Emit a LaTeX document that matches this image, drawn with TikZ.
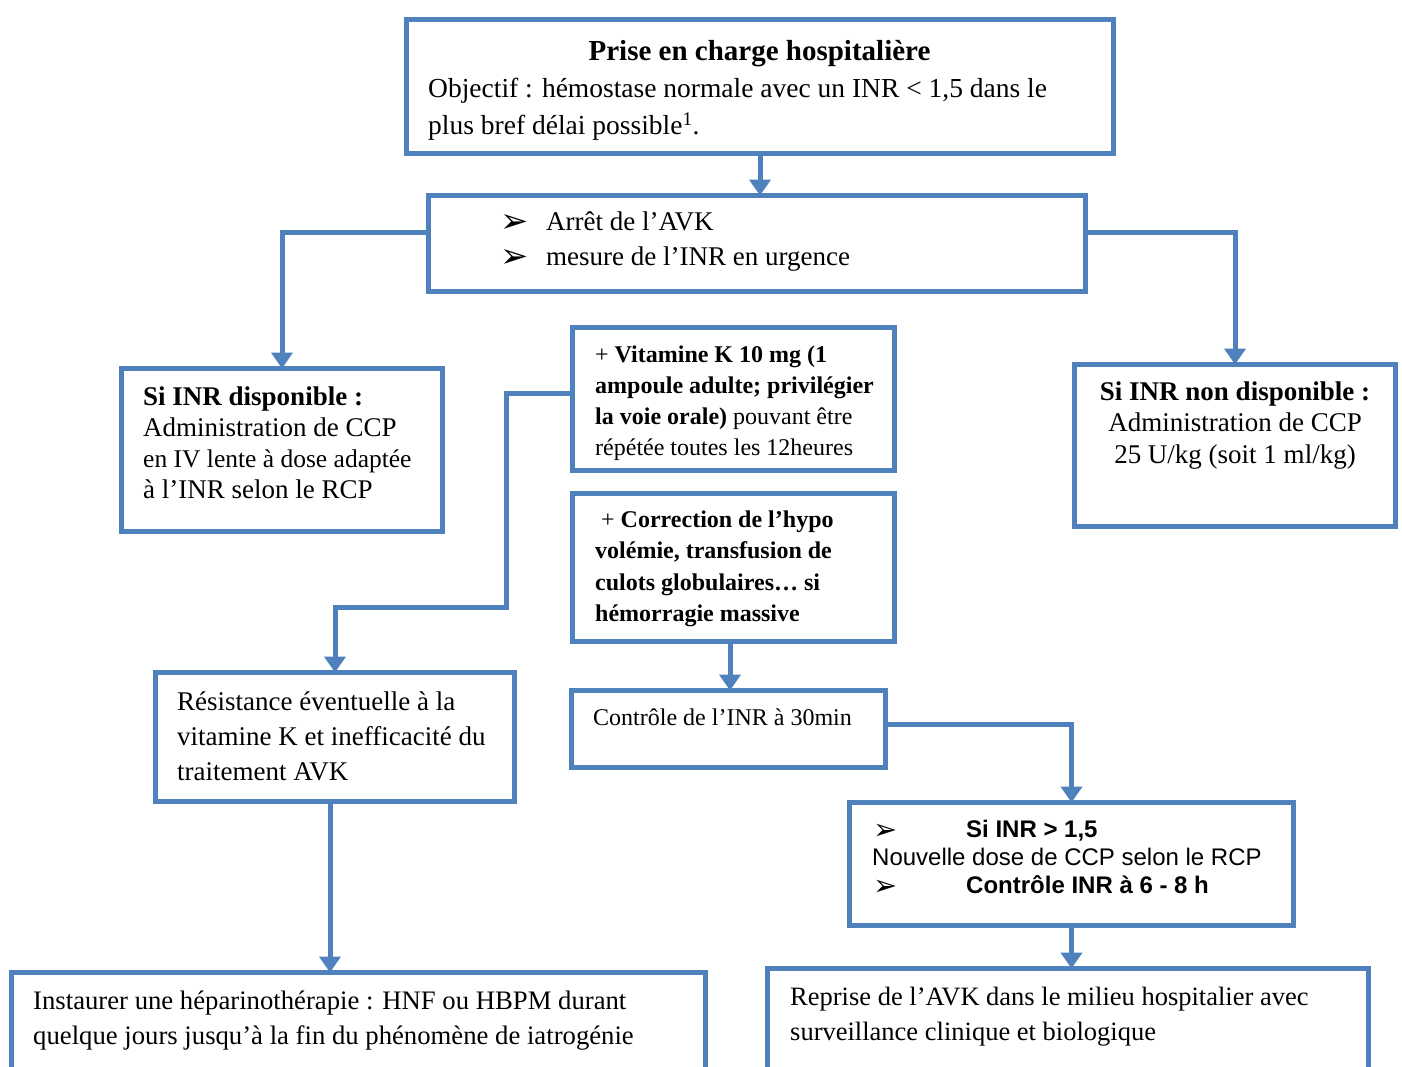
\documentclass[tikz,border=0pt]{standalone}
\usepackage{fontspec}
\setmainfont{Liberation Serif}
\newfontfamily\arialf{Liberation Sans}
\newfontfamily\dejavu{DejaVu Sans}
\usetikzlibrary{arrows.meta}
\definecolor{boxblue}{RGB}{79,129,189}
\newcommand{\fs}[2]{\fontsize{#1}{#2}\selectfont}
\newcommand{\arrbul}[1]{\raisebox{-2pt}{\scalebox{#1}{\dejavu ➢}}}
\begin{document}
\begin{tikzpicture}[x=1pt,y=-1pt,
  box/.style={draw=boxblue, line width=5pt, inner sep=0pt, outer sep=0pt, rectangle, fill=white},
  arrowc/.style={draw=boxblue, line width=5pt, -{Triangle[width=21pt,length=16pt]}},
  txt/.style={anchor=north west, inner sep=0pt, align=left},
  ctxt/.style={anchor=north, inner sep=0pt, align=center},
]
\useasboundingbox (0,0) rectangle (1402,1066);
\fill[white] (0,0) rectangle (1402,1066);
\clip (0,0) rectangle (1402,1066);

% boxes
\node[box, minimum width=707pt, minimum height=134pt] (b1) at (760,86.5) {};
\node[box, minimum width=657pt, minimum height=96pt] (b2) at (757,243.5) {};
\node[box, minimum width=321pt, minimum height=163pt] (b3) at (282,450) {};
\node[box, minimum width=321pt, minimum height=162pt] (b4) at (1235,445.5) {};
\node[box, minimum width=322pt, minimum height=143pt] (bvit) at (733.5,399) {};
\node[box, minimum width=322pt, minimum height=148pt] (bcor) at (733.5,567.5) {};
\node[box, minimum width=314pt, minimum height=77pt] (bctl) at (728.5,729) {};
\node[box, minimum width=359pt, minimum height=129pt] (bres) at (335,737) {};
\node[box, minimum width=444pt, minimum height=123pt] (binr) at (1071.5,864) {};
\node[box, minimum width=601pt, minimum height=131pt] (brep) at (1068,1034) {};
\node[box, minimum width=694pt, minimum height=127pt] (bhep) at (358.5,1036) {};

% texts
\node[ctxt, font=\bfseries\fs{29}{37}] (t1a) at (759.5,34.1) {\strut Prise en charge hospitalière};
\node[txt, font=\fs{27.5}{37}] (t1b) at (428,71.1) {\strut Objectif : hémostase normale avec un INR < 1,5 dans le\\plus bref délai possible\textsuperscript{1}.};
\node[txt, font=\fs{27}{35}] (t2) at (500,205.5) {\strut\makebox[46pt][l]{\arrbul{1.25}}Arrêt de l’AVK\\\makebox[46pt][l]{\arrbul{1.25}}mesure de l’INR en urgence};
\node[txt, font=\fs{27}{31}] (t3) at (143,383.3) {\strut\textbf{Si INR disponible :}\\Administration de CCP\\{\fs{25.5}{31}en IV lente à dose adaptée}\\à l’INR selon le RCP};
\node[ctxt, font=\fs{27}{31.5}] (t4) at (1235,378) {\strut\textbf{Si INR non disponible :}\\Administration de CCP\\25 U/kg (soit 1 ml/kg)};
\node[txt, font=\fs{24}{31}] (tvit) at (595,340.3) {\strut+ \textbf{Vitamine K 10 mg (1}\\\textbf{ampoule adulte; privilégier}\\\textbf{la voie orale)} pouvant être\\répétée toutes les 12heures};
\node[txt, font=\fs{24}{31.5}] (tcor) at (595,505) {\strut\hspace{6pt}+ \textbf{Correction de l’hypo}\\\textbf{volémie, transfusion de}\\\textbf{culots globulaires… si}\\\textbf{hémorragie massive}};
\node[txt, font=\fs{24}{31}] (tctl) at (593,703.3) {\strut Contrôle de l’INR à 30min};
\node[txt, font=\fs{27}{35}] (tres) at (177,685.5) {\strut Résistance éventuelle à la\\vitamine K et inefficacité du\\traitement AVK};
\node[txt, font=\arialf\fs{24}{28}] (tinr) at (872,817.4) {\strut\makebox[94pt][l]{\hspace{1pt}\arrbul{1.2}}\textbf{Si INR > 1,5}\\Nouvelle dose de CCP selon le RCP\\\makebox[94pt][l]{\hspace{1pt}\arrbul{1.2}}\textbf{Contrôle INR à 6 - 8 h}};
\node[txt, font=\fs{26.5}{35}] (trep) at (790,981) {\strut Reprise de l’AVK dans le milieu hospitalier avec\\surveillance clinique et biologique};
\node[txt, font=\fs{26.7}{35}] (thep) at (33,984.5) {\strut Instaurer une héparinothérapie : HNF ou HBPM durant\\quelque jours jusqu’à la fin du phénomène de iatrogénie};

% connectors
\coordinate (yA) at (0,232);
\coordinate (vA) at (506,393);
\coordinate (vB) at (506,607);
\coordinate (yC) at (0,724);
\coordinate (xC) at (730,0);
\coordinate (xR) at (330,0);

\draw[arrowc] (b1.south) -- (b1.south |- b2.north);
\draw[arrowc] (b2.west |- yA) -| (b3.north);
\draw[arrowc] (b2.east |- yA) -| (b4.north);
\draw[arrowc] (bvit.west |- vA) -- (vA) -- (vB) -| (bres.north);
\draw[arrowc] (bcor.south -| xC) -- (bctl.north -| xC);
\draw[arrowc] (bctl.east |- yC) -| (binr.north);
\draw[arrowc] (binr.south) -- (binr.south |- brep.north);
\draw[arrowc] (bres.south -| xR) -- (bhep.north -| xR);
\end{tikzpicture}
\end{document}
